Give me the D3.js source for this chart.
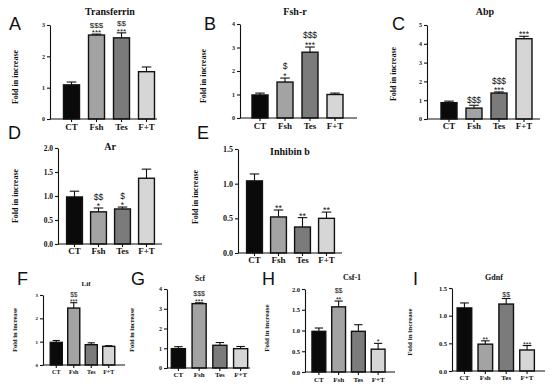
<!DOCTYPE html>
<html>
<head>
<meta charset="utf-8">
<script src="https://cdn.jsdelivr.net/npm/d3@7"></script>
<style>
  html, body { margin: 0; padding: 0; background: #fff; }
  svg { display: block; }
  .serif { font-family: "Liberation Serif", "Times New Roman", serif; font-weight: bold; fill: #111; }
  .sans { font-family: "Liberation Sans", Arial, sans-serif; fill: #111; }
</style>
</head>
<body>
<script>
(function () {
  'use strict';

  // groups on every x axis
  var groups = ['CT', 'Fsh', 'Tes', 'F+T'];
  var fills = ['#0a0a0a', '#a3a3a3', '#7b7b7b', '#d6d6d6'];

  // values (mean, error, significance marks)
  var transferrinMean = [1.09, 2.68, 2.59, 1.51];
  var transferrinSem = [0.09, 0.03, 0.16, 0.15];
  var transferrinSig = [[], ['$$$', '***'], ['$$', '***'], []];

  var fshrMean = [0.98, 1.53, 2.8, 1.0];
  var fshrSem = [0.08, 0.17, 0.22, 0.06];
  var fshrSig = [[], ['$', '*'], ['$$$', '***'], []];

  var abpMean = [0.87, 0.58, 1.38, 4.27];
  var abpSem = [0.08, 0.15, 0.06, 0.13];
  var abpSig = [[], ['$$$'], ['$$$', '***'], ['***']];

  var arMean = [0.98, 0.67, 0.73, 1.37];
  var arSem = [0.12, 0.08, 0.04, 0.19];
  var arSig = [[], ['$$', '*'], ['$', '*'], []];

  var inhibinMean = [1.04, 0.52, 0.375, 0.5];
  var inhibinSem = [0.1, 0.1, 0.135, 0.09];
  var inhibinSig = [[], ['**'], ['**'], ['**']];

  var lifMean = [0.97, 2.44, 0.87, 0.8];
  var lifSem = [0.08, 0.23, 0.08, 0.03];
  var lifSig = [[], ['$$', '***'], [], []];

  var scfMean = [0.98, 3.26, 1.15, 0.98];
  var scfSem = [0.1, 0.04, 0.14, 0.11];
  var scfSig = [[], ['$$$', '***'], [], []];

  var csfMean = [0.98, 1.57, 0.98, 0.55];
  var csfSem = [0.08, 0.14, 0.16, 0.14];
  var csfSig = [[], ['$$', '**'], [], ['*']];

  var gdnfMean = [1.14, 0.485, 1.21, 0.38];
  var gdnfSem = [0.09, 0.06, 0.1, 0.08];
  var gdnfSig = [[], ['**'], ['$$'], ['***']];

  // y tick values
  var ticks3 = [0, 1, 2, 3];
  var ticks4 = [0, 1, 2, 3, 4];
  var ticks5 = [0, 1, 2, 3, 4, 5];
  var ticks20 = [0, 0.5, 1, 1.5, 2];
  var ticks15 = [0, 0.5, 1, 1.5];

  var panelLetters = ['A', 'B', 'C', 'D', 'E', 'F', 'G', 'H', 'I'];
  var panelTitles = ['Transferrin', 'Fsh-r', 'Abp', 'Ar', 'Inhibin b', 'Lif', 'Scf', 'Csf-1', 'Gdnf'];
  var yTitle = 'Fold in increase';

  var panelData = [
    {mean: transferrinMean, sem: transferrinSem, sig: transferrinSig, ticks: ticks3, fmt: 'd'},
    {mean: fshrMean, sem: fshrSem, sig: fshrSig, ticks: ticks4, fmt: 'd'},
    {mean: abpMean, sem: abpSem, sig: abpSig, ticks: ticks5, fmt: 'd'},
    {mean: arMean, sem: arSem, sig: arSig, ticks: ticks20, fmt: '.1f'},
    {mean: inhibinMean, sem: inhibinSem, sig: inhibinSig, ticks: ticks15, fmt: '.1f'},
    {mean: lifMean, sem: lifSem, sig: lifSig, ticks: ticks3, fmt: 'd'},
    {mean: scfMean, sem: scfSem, sig: scfSig, ticks: ticks4, fmt: 'd'},
    {mean: csfMean, sem: csfSem, sig: csfSig, ticks: ticks20, fmt: '.1f'},
    {mean: gdnfMean, sem: gdnfSem, sig: gdnfSig, ticks: ticks15, fmt: '.1f'}
  ];

  // where each small plot sits on the page
  var layout = [
    {ax: 50, axEnd: 157, y0: 119, y1: 25, band: [59, 159], pad: 0.36, title: [110, 15, 10], xt: [9, 11], yt: 6, yl: [15, 77, 8], sig: [8, 7.5], letter: [9, 30]},
    {ax: 240, axEnd: 357, y0: 118, y1: 24, band: [247.5, 347.5], pad: 0.36, title: [295, 15, 10], xt: [9, 11], yt: 6, yl: [203, 76, 8], sig: [8.5, 10], letter: [204, 30]},
    {ax: 427, axEnd: 540, y0: 119, y1: 25, band: [436.5, 536.5], pad: 0.36, title: [485, 15, 10], xt: [9, 10], yt: 6, yl: [393, 74, 8], sig: [8.5, 9], letter: [392, 30]},
    {ax: 58, axEnd: 162, y0: 244, y1: 148, band: [62.5, 158.5], pad: 0.34, title: [110, 150, 10], xt: [9, 9.5], yt: 7.5, yl: [15, 196, 8], sig: [8.5, 9], letter: [8, 139]},
    {ax: 238, axEnd: 342, y0: 253, y1: 149, band: [242.5, 338.5], pad: 0.34, title: [290, 155, 10], xt: [9, 9.5], yt: 8, yl: [195, 197, 8], sig: [9, 8], letter: [197, 139]},
    {ax: 43, axEnd: 125, y0: 365, y1: 295, band: [47.5, 117.5], pad: 0.31, title: [86, 286, 7], xt: [6, 9], yt: 5, yl: [15, 330, 6.5], sig: [6.5, 6.5], letter: [17, 285]},
    {ax: 167, axEnd: 250, y0: 368, y1: 289, band: [168, 251], pad: 0.32, title: [200, 281, 7.5], xt: [7, 9], yt: 6, yl: [132, 330, 6.5], sig: [7, 8], letter: [131, 285]},
    {ax: 305, axEnd: 395, y0: 372, y1: 289, band: [309, 388], pad: 0.3, title: [352, 280, 8], xt: [7, 10], yt: 6.5, yl: [267, 328, 7], sig: [7, 9], letter: [262, 285]},
    {ax: 452, axEnd: 545, y0: 371, y1: 288, band: [454, 537.5], pad: 0.3, title: [494, 280, 8], xt: [7, 8.5], yt: 6.5, yl: [410, 332, 7], sig: [7, 8], letter: [413, 285]}
  ];

  var svg = d3.select('body').append('svg')
    .attr('width', 550)
    .attr('height', 387);

  svg.append('rect').attr('width', 550).attr('height', 387).attr('fill', '#fff');

  layout.forEach(function drawPanel(lay, i) {
    var d = panelData[i];
    var g = svg.append('g');

    var x = d3.scaleBand()
      .domain(groups)
      .range(lay.band)
      .paddingInner(lay.pad)
      .paddingOuter(lay.pad / 2);

    var y = d3.scaleLinear()
      .domain([0, d3.max(d.ticks)])
      .range([lay.y0, lay.y1]);

    var rows = groups.map(function (name, j) {
      return {name: name, mean: d.mean[j], sem: d.sem[j], sig: d.sig[j], fill: fills[j]};
    });

    // error bars (upper half only), drawn under the bar outline
    var capW = x.bandwidth() * 0.6;
    rows.forEach(function (r) {
      var cx = x(r.name) + x.bandwidth() / 2;
      g.append('line')
        .attr('x1', cx).attr('x2', cx)
        .attr('y1', y(r.mean)).attr('y2', y(r.mean + r.sem))
        .attr('stroke', '#111').attr('stroke-width', 1.1);
      g.append('line')
        .attr('x1', cx - capW / 2).attr('x2', cx + capW / 2)
        .attr('y1', y(r.mean + r.sem)).attr('y2', y(r.mean + r.sem))
        .attr('stroke', '#111').attr('stroke-width', 1.1);
    });

    g.selectAll('rect.bar')
      .data(rows)
      .enter().append('rect')
      .attr('class', 'bar')
      .attr('x', function (r) { return x(r.name); })
      .attr('y', function (r) { return y(r.mean); })
      .attr('width', x.bandwidth())
      .attr('height', function (r) { return lay.y0 - y(r.mean); })
      .attr('fill', function (r) { return r.fill; })
      .attr('stroke', '#111')
      .attr('stroke-width', 1.4);

    // significance marks, bottom line sits on the error cap
    rows.forEach(function (r) {
      var cx = x(r.name) + x.bandwidth() / 2;
      var top = y(r.mean + r.sem);
      var lines = r.sig.slice().reverse();
      var base = null;
      lines.forEach(function (txt, k) {
        if (k === 0) base = txt.charAt(0) === '*' ? top + 1 : top - 2;
        else base -= lay.sig[1];
        g.append('text')
          .attr('class', 'sans')
          .attr('x', cx).attr('y', base)
          .attr('text-anchor', 'middle')
          .attr('font-size', lay.sig[0])
          .text(txt);
      });
    });

    // y axis
    var yAxis = d3.axisLeft(y)
      .tickValues(d.ticks)
      .tickFormat(d3.format(d.fmt))
      .tickSize(3)
      .tickSizeOuter(0)
      .tickPadding(2);

    var ya = g.append('g')
      .attr('transform', 'translate(' + lay.ax + ',0)')
      .call(yAxis);
    ya.selectAll('path, line').attr('stroke', '#111').attr('stroke-width', 1.1);
    ya.selectAll('text')
      .attr('class', 'serif')
      .attr('font-size', lay.yt)
      .attr('fill', '#111');

    // x axis: ticks from the band scale, line over the full width
    var xAxis = d3.axisBottom(x).tickSize(3).tickSizeOuter(0).tickPadding(1);
    var xa = g.append('g')
      .attr('transform', 'translate(0,' + lay.y0 + ')')
      .call(xAxis);
    xa.select('.domain').remove();
    xa.selectAll('line').attr('stroke', '#111').attr('stroke-width', 1.1);
    xa.selectAll('text')
      .attr('class', 'serif')
      .attr('font-size', lay.xt[0])
      .attr('fill', '#111')
      .attr('dy', null)
      .attr('y', lay.xt[1]);
    g.append('line')
      .attr('x1', lay.ax).attr('x2', lay.axEnd)
      .attr('y1', lay.y0).attr('y2', lay.y0)
      .attr('stroke', '#111').attr('stroke-width', 1.1);

    // labels
    g.append('text')
      .attr('class', 'serif')
      .attr('x', lay.title[0]).attr('y', lay.title[1])
      .attr('text-anchor', 'middle')
      .attr('font-size', lay.title[2])
      .text(panelTitles[i]);

    g.append('text')
      .attr('class', 'serif')
      .attr('transform', 'translate(' + lay.yl[0] + ',' + lay.yl[1] + ') rotate(-90)')
      .attr('text-anchor', 'middle')
      .attr('dy', '0.35em')
      .attr('font-size', lay.yl[2])
      .text(yTitle);

    g.append('text')
      .attr('class', 'sans')
      .attr('x', lay.letter[0]).attr('y', lay.letter[1])
      .attr('font-size', 18)
      .text(panelLetters[i]);
  });
}());
</script>
</body>
</html>
